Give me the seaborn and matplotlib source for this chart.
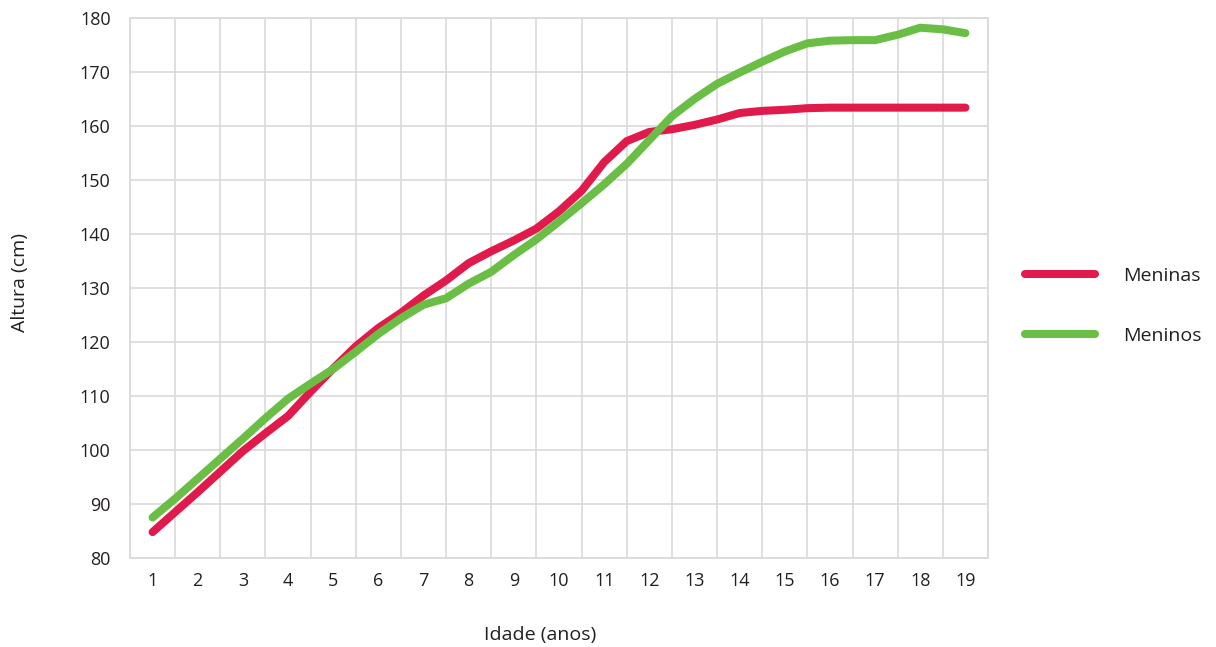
import matplotlib
matplotlib.use("Agg")
import matplotlib.pyplot as plt
import pandas as pd
import seaborn as sns

idade = [1, 1.5, 2, 2.5, 3, 3.5, 4, 4.5, 5, 5.5, 6, 6.5, 7, 7.5, 8, 8.5, 9, 9.5, 10,
         10.5, 11, 11.5, 12, 12.5, 13, 13.5, 14, 14.5, 15, 15.5, 16, 16.5, 17, 17.5,
         18, 18.5, 19]
meninas = [84.8, 88.5, 92.2, 96.0, 99.8, 103.1, 106.3, 110.8, 115.1, 119.2, 122.6,
           125.4, 128.6, 131.4, 134.6, 136.8, 138.8, 141.0, 144.2, 148.0, 153.3, 157.2,
           158.9, 159.4, 160.2, 161.2, 162.4, 162.8, 163.0, 163.3, 163.4, 163.4, 163.4,
           163.4, 163.4, 163.4, 163.4]
meninos = [87.5, 91.0, 94.7, 98.4, 102.1, 105.9, 109.5, 112.3, 115.0, 118.2, 121.5,
           124.4, 126.9, 128.1, 130.8, 133.0, 136.1, 139.0, 142.3, 145.7, 149.2, 153.0,
           157.4, 161.8, 165.0, 167.8, 169.9, 171.9, 173.8, 175.3, 175.8, 175.9, 175.9,
           176.9, 178.2, 177.9, 177.2]
anos_ticks = list(range(1, 20))
altura_ticks = list(range(80, 181, 10))

df = pd.DataFrame({
    "idade": idade * 2,
    "altura": meninas + meninos,
    "grupo": ["Meninas"] * len(idade) + ["Meninos"] * len(idade),
})

sns.set_style("white")
plt.rcParams["font.family"] = ["Open Sans", "DejaVu Sans"]
texto = "#231f20"
grade = "#d9d9d9"

fig = plt.figure(figsize=(12.16, 6.47), dpi=100)
ax = fig.add_axes([130 / 1216, 1 - 558 / 647, 858 / 1216, 540 / 647])

sns.lineplot(
    data=df, x="idade", y="altura", hue="grupo",
    palette={"Meninas": "#e01b4c", "Meninos": "#6bbe45"},
    linewidth=5.8, ax=ax, legend=True,
)
for ln in ax.get_lines():
    ln.set_solid_capstyle("round")
    ln.set_solid_joinstyle("round")

ax.set_xlim(0.5, 19.5)
ax.set_ylim(80, 180)
ax.set_xticks(anos_ticks)
ax.set_xticks([t - 0.5 for t in anos_ticks] + [19.5], minor=True)
ax.set_yticks(altura_ticks)
ax.grid(False)
ax.grid(True, which="minor", axis="x", color=grade, linewidth=1.2)
ax.grid(True, which="major", axis="y", color=grade, linewidth=1.2)
ax.set_axisbelow(True)
ax.tick_params(which="both", length=0)
ax.tick_params(axis="x", pad=10, labelsize=13, colors=texto)
ax.tick_params(axis="y", pad=14, labelsize=13, colors=texto)
for s in ax.spines.values():
    s.set_color(grade)
    s.set_linewidth(1.2)

ax.set_xlabel("Idade (anos)", fontsize=14, color=texto, va="center")
ax.set_ylabel("Altura (cm)", fontsize=14, color=texto, va="center")
ax.xaxis.set_label_coords((540 - 130) / 858, (558 - 635) / 540)
ax.yaxis.set_label_coords((20 - 130) / 858, (558 - 282) / 540)

handles, labels = ax.get_legend_handles_labels()
leg = ax.legend(
    handles, labels, loc="center left",
    bbox_to_anchor=(1025 / 1216, 1 - 306 / 647), bbox_transform=fig.transFigure,
    frameon=False, fontsize=14, handlelength=3.6, handletextpad=1.45,
    labelspacing=2.15, borderpad=0, borderaxespad=0,
)
for t in leg.get_texts():
    t.set_color(texto)
for h in leg.get_lines():
    h.set_linewidth(5.8)
    h.set_solid_capstyle("round")

fig.savefig("out.png", dpi=100)
